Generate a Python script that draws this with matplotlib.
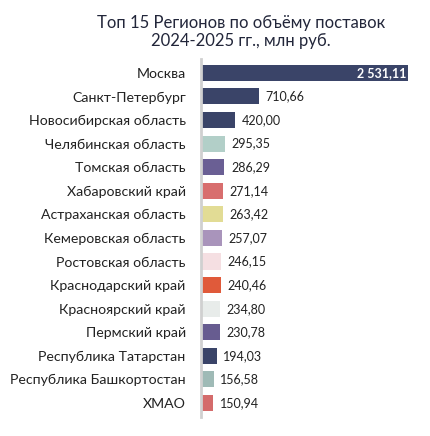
import matplotlib.pyplot as plt

regions = ['Москва', 'Санкт-Петербург', 'Новосибирская область', 'Челябинская область',
           'Томская область', 'Хабаровский край', 'Астраханская область', 'Кемеровская область',
           'Ростовская область', 'Краснодарский край', 'Красноярский край', 'Пермский край',
           'Республика Татарстан', 'Республика Башкортостан', 'ХМАО']
values = [2531.11, 710.66, 420.00, 295.35, 286.29, 271.14, 263.42, 257.07,
          246.15, 240.46, 234.80, 230.78, 194.03, 156.58, 150.94]
colors = ['#3a4468', '#3a4468', '#3a4468', '#b2cfc8', '#6a5f94', '#d86e6e', '#e2dc95', '#a994bb',
          '#f5dfe2', '#e05a3a', '#e8ecea', '#675c90', '#3a4468', '#9fbab6', '#d46b6b']

plt.rcParams['font.family'] = ['Lato', 'DejaVu Sans']


def fmt(v):
    s = f'{v:,.2f}'
    return s.replace(',', ' ').replace('.', ',')


fig = plt.figure(figsize=(4.3, 4.36), dpi=100)
ax = fig.add_axes([0.4674, 0.0433, 0.495, 0.822])

y = list(range(len(regions)))
ax.barh(y, values, height=0.68, color=colors)
ax.set_ylim(len(regions) - 0.4, -0.6)
ax.set_xlim(0, 2600)

for i, v in enumerate(values):
    if i == 0:
        ax.text(v - 25, i, fmt(v), ha='right', va='center', fontsize=9, color='white',
                fontweight='bold')
    else:
        ax.text(v + 80, i, fmt(v), ha='left', va='center', fontsize=9, color='#222222')

ax.set_yticks(y)
ax.set_yticklabels(regions, fontsize=10.2, color='#222222')
ax.tick_params(axis='y', length=0, pad=11)
ax.set_xticks([])
for s in ['top', 'right', 'bottom']:
    ax.spines[s].set_visible(False)
ax.spines['left'].set_color('#d0d0d0')
ax.spines['left'].set_linewidth(2)

fig.text(0.56, 0.965, 'Топ 15 Регионов по объёму поставок\n2024-2025 гг., млн руб.',
         ha='center', va='top', fontsize=12, color='#22263a', linespacing=1.15)

fig.savefig('out.png', dpi=100)
